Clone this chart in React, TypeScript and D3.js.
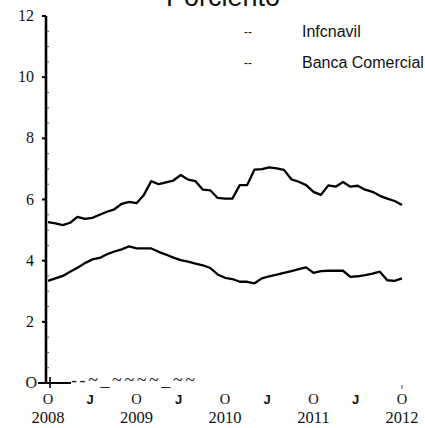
import React from "react";
import * as d3 from "d3";

const months: number[] = d3.range(49); // Oct 2008 .. Oct 2012, monthly index
const infonavit: number[] = [
  5.26, 5.22, 5.16, 5.24, 5.43, 5.37, 5.4, 5.5, 5.6, 5.68, 5.86, 5.92, 5.88,
  6.15, 6.6, 6.5, 6.56, 6.62, 6.8, 6.65, 6.6, 6.32, 6.3, 6.05, 6.03, 6.03,
  6.47, 6.47, 6.98, 6.99, 7.05, 7.02, 6.97, 6.66, 6.58, 6.47, 6.25, 6.15,
  6.46, 6.42, 6.57, 6.42, 6.45, 6.32, 6.25, 6.12, 6.03, 5.95, 5.82,
];
const bancaComercial: number[] = [
  3.34, 3.42, 3.5, 3.64, 3.77, 3.92, 4.04, 4.09, 4.21, 4.3, 4.37, 4.47, 4.4,
  4.4, 4.4, 4.29, 4.2, 4.1, 4.02, 3.97, 3.9, 3.85, 3.76, 3.55, 3.44, 3.4,
  3.31, 3.31, 3.26, 3.42, 3.49, 3.54, 3.6, 3.66, 3.72, 3.78, 3.6, 3.66, 3.67,
  3.67, 3.67, 3.47, 3.49, 3.53, 3.58, 3.64, 3.36, 3.34, 3.42,
];
const yTicks: number[] = [0, 2, 4, 6, 8, 10, 12];
const yTickLabels: string[] = ["O", "2", "4", "6", "8", "10", "12"];
const oTickMonths: number[] = [0, 12, 24, 36, 48];
const oTickYears: string[] = ["2008", "2009", "2010", "2011", "2012"];
const jTickMonths: number[] = [5.7, 17.7, 29.7, 41.7];
const legendLabels: string[] = ["Infcnavil", "Banca Comercial"];
const title = "Porciento";

export default function App() {
  const W = 425;
  const H = 428;
  const x = d3.scaleLinear().domain([0, 48]).range([48, 402]);
  const y = d3.scaleLinear().domain([0, 12]).range([383, 16]);
  const line = d3
    .line<number>()
    .x((_, i) => x(months[i]))
    .y((d) => y(d));
  const serif = "'Liberation Serif', 'Times New Roman', serif";
  const sans = "'Liberation Sans', Arial, sans-serif";
  const minorTicks = d3.range(0, 12.01, 0.5).filter((v) => v % 2 !== 0);
  return (
    <svg
      width={W}
      height={H}
      style={{ position: "absolute", left: 0, top: 0, background: "#fff" }}
    >
      <rect x={0} y={0} width={W} height={H} fill="#fff" />
      <text x={223} y={6} textAnchor="middle" fontFamily={sans} fontSize={27} fill="#111">
        {title}
      </text>
      {/* legend */}
      {legendLabels.map((l, i) => (
        <g key={l}>
          <text x={248} y={36 + i * 31} textAnchor="middle" fontFamily={sans} fontSize={12} fill="#111">
            --
          </text>
          <text x={302} y={37 + i * 31} fontFamily={sans} fontSize={16} fill="#111">
            {l}
          </text>
        </g>
      ))}
      {/* y axis */}
      <line x1={x(0) - 2} x2={x(0) - 2} y1={y(12)} y2={y(0)} stroke="#000" strokeWidth={2.6} />
      {yTicks.map((t, i) => (
        <g key={t}>
          <line x1={x(0) - 6} x2={x(0) - 2} y1={y(t)} y2={y(t)} stroke="#000" strokeWidth={2} />
          <text
            x={i === 0 ? 37 : 34}
            y={y(t) + 5}
            textAnchor="end"
            fontFamily={serif}
            fontSize={16}
            fill="#111"
          >
            {yTickLabels[i]}
          </text>
        </g>
      ))}
      {minorTicks.map((t) => (
        <line key={t} x1={x(0) - 1} x2={x(0) + 1} y1={y(t)} y2={y(t)} stroke="#555" strokeWidth={1} />
      ))}
      {/* baseline artifact */}
      <line x1={x(0) - 10} x2={x(0) + 23} y1={y(0)} y2={y(0)} stroke="#000" strokeWidth={2.2} />
      <line x1={x(0) + 2} x2={x(0) + 2} y1={y(0) - 6} y2={y(0) + 5} stroke="#000" strokeWidth={1.6} />
      <text
        x={x(0) + 23}
        y={y(0) + 3}
        fontFamily={serif}
        fontSize={18}
        textLength={124}
        lengthAdjust="spacing"
        fill="#222"
      >
        --~_~~~~_~~
      </text>
      <line x1={x(48)} x2={x(48)} y1={y(0) + 2} y2={y(0) + 6} stroke="#444" strokeWidth={1} />
      {/* x labels */}
      {oTickMonths.map((m, i) => (
        <g key={m}>
          <text x={x(m)} y={404} textAnchor="middle" fontFamily={serif} fontSize={14.5} fill="#111">
            O
          </text>
          <text x={x(m)} y={423} textAnchor="middle" fontFamily={serif} fontSize={16.5} fill="#111">
            {oTickYears[i]}
          </text>
        </g>
      ))}
      {jTickMonths.map((m) => (
        <text key={m} x={x(m)} y={404} textAnchor="middle" fontFamily={sans} fontWeight="bold" fontSize={13} fill="#111">
          J
        </text>
      ))}
      {/* lines */}
      <path d={line(infonavit) || ""} fill="none" stroke="#000" strokeWidth={2.3} strokeLinejoin="round" />
      <path d={line(bancaComercial) || ""} fill="none" stroke="#000" strokeWidth={2.3} strokeLinejoin="round" />
    </svg>
  );
}
